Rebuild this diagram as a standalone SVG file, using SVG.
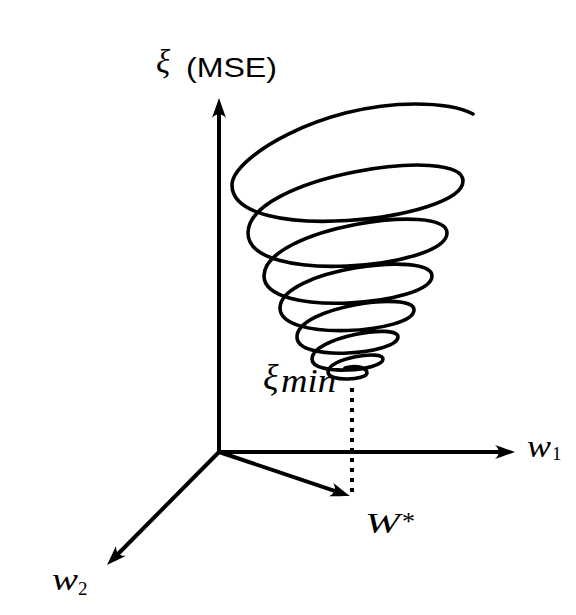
<svg xmlns="http://www.w3.org/2000/svg" width="576" height="615" viewBox="0 0 576 615">
<style>
.ax{stroke:#000;stroke-width:4;fill:none}
.sp{stroke:#000;stroke-width:3.6;fill:none;stroke-linecap:round;stroke-linejoin:round}
.dot{stroke:#000;stroke-width:4;fill:none;stroke-dasharray:4 6}
.m{font-family:"Liberation Serif","DejaVu Serif",serif;font-style:italic;fill:#000}
.r{font-family:"Liberation Serif","DejaVu Serif",serif;fill:#000}
.s{font-family:"Liberation Sans",Arial,sans-serif;fill:#000}
</style>
<defs>
<marker id="ah" markerUnits="userSpaceOnUse" markerWidth="24" markerHeight="16" viewBox="0 -8 24 16" refX="10" refY="0" orient="auto">
<path d="M20,0 C14,-2 6,-5 0,-7 C5,-2.5 5,2.5 0,7 C6,5 14,2 20,0 Z" fill="#000"/>
</marker>
</defs>
<g id="connectors">
<line class="ax" x1="219" y1="454" x2="219" y2="108" marker-end="url(#ah)"/>
<line class="ax" x1="217" y1="452" x2="505" y2="452" marker-end="url(#ah)"/>
<line class="ax" x1="219" y1="452" x2="114" y2="558" marker-end="url(#ah)"/>
<line class="ax" x1="219" y1="452" x2="340.5" y2="492.8" stroke-width="3.5" marker-end="url(#ah)"/>
<line class="dot" x1="352" y1="388" x2="352" y2="498"/>
</g>
<g id="surface">
<path class="sp" d="M473,114 C458,106 435,104 415,104 C320,104 232,158 232,185 C232,245.6 463,220.4 463,181 C463,143.9 248,176.1 248,233 C248,286.1 447,267.9 447,233 C447,201.1 264,227.9 264,276 C264,319 432,305 432,276 C432,250.2 280,269.2 280,308 C280,342.7 414,332.7 414,310 C414,290.3 297,306.7 297,337 C297,363 398,353.6 398,337 C398,322.8 312,337.2 312,359 C312,376.7 383,370.7 383,359 C383,349.6 328,358 328,372 C328,382.4 367,380 367,373 C367,367 355,365 345,368"/>
</g>
<g id="label-xi">
<text class="m" x="156" y="73" font-size="33">ξ</text>
<text class="s" x="186" y="77" font-size="27" textLength="91" lengthAdjust="spacingAndGlyphs">(MSE)</text>
</g>
<g id="label-ximin">
<text class="m" x="263" y="389" font-size="36">ξ</text>
<text class="m" x="281" y="392" font-size="33" textLength="55" lengthAdjust="spacingAndGlyphs">min</text>
</g>
<g id="label-w1">
<text class="m" x="527" y="457" font-size="31" textLength="24" lengthAdjust="spacingAndGlyphs">w</text>
<text class="r" x="552" y="460" font-size="19">1</text>
</g>
<g id="label-w2">
<text class="m" x="52" y="590" font-size="31" textLength="26" lengthAdjust="spacingAndGlyphs">w</text>
<text class="r" x="78" y="595" font-size="19">2</text>
</g>
<g id="label-wstar">
<text class="m" x="365" y="533" font-size="30" textLength="35" lengthAdjust="spacingAndGlyphs">W</text>
<text class="r" x="402" y="530" font-size="26">*</text>
</g>
</svg>
